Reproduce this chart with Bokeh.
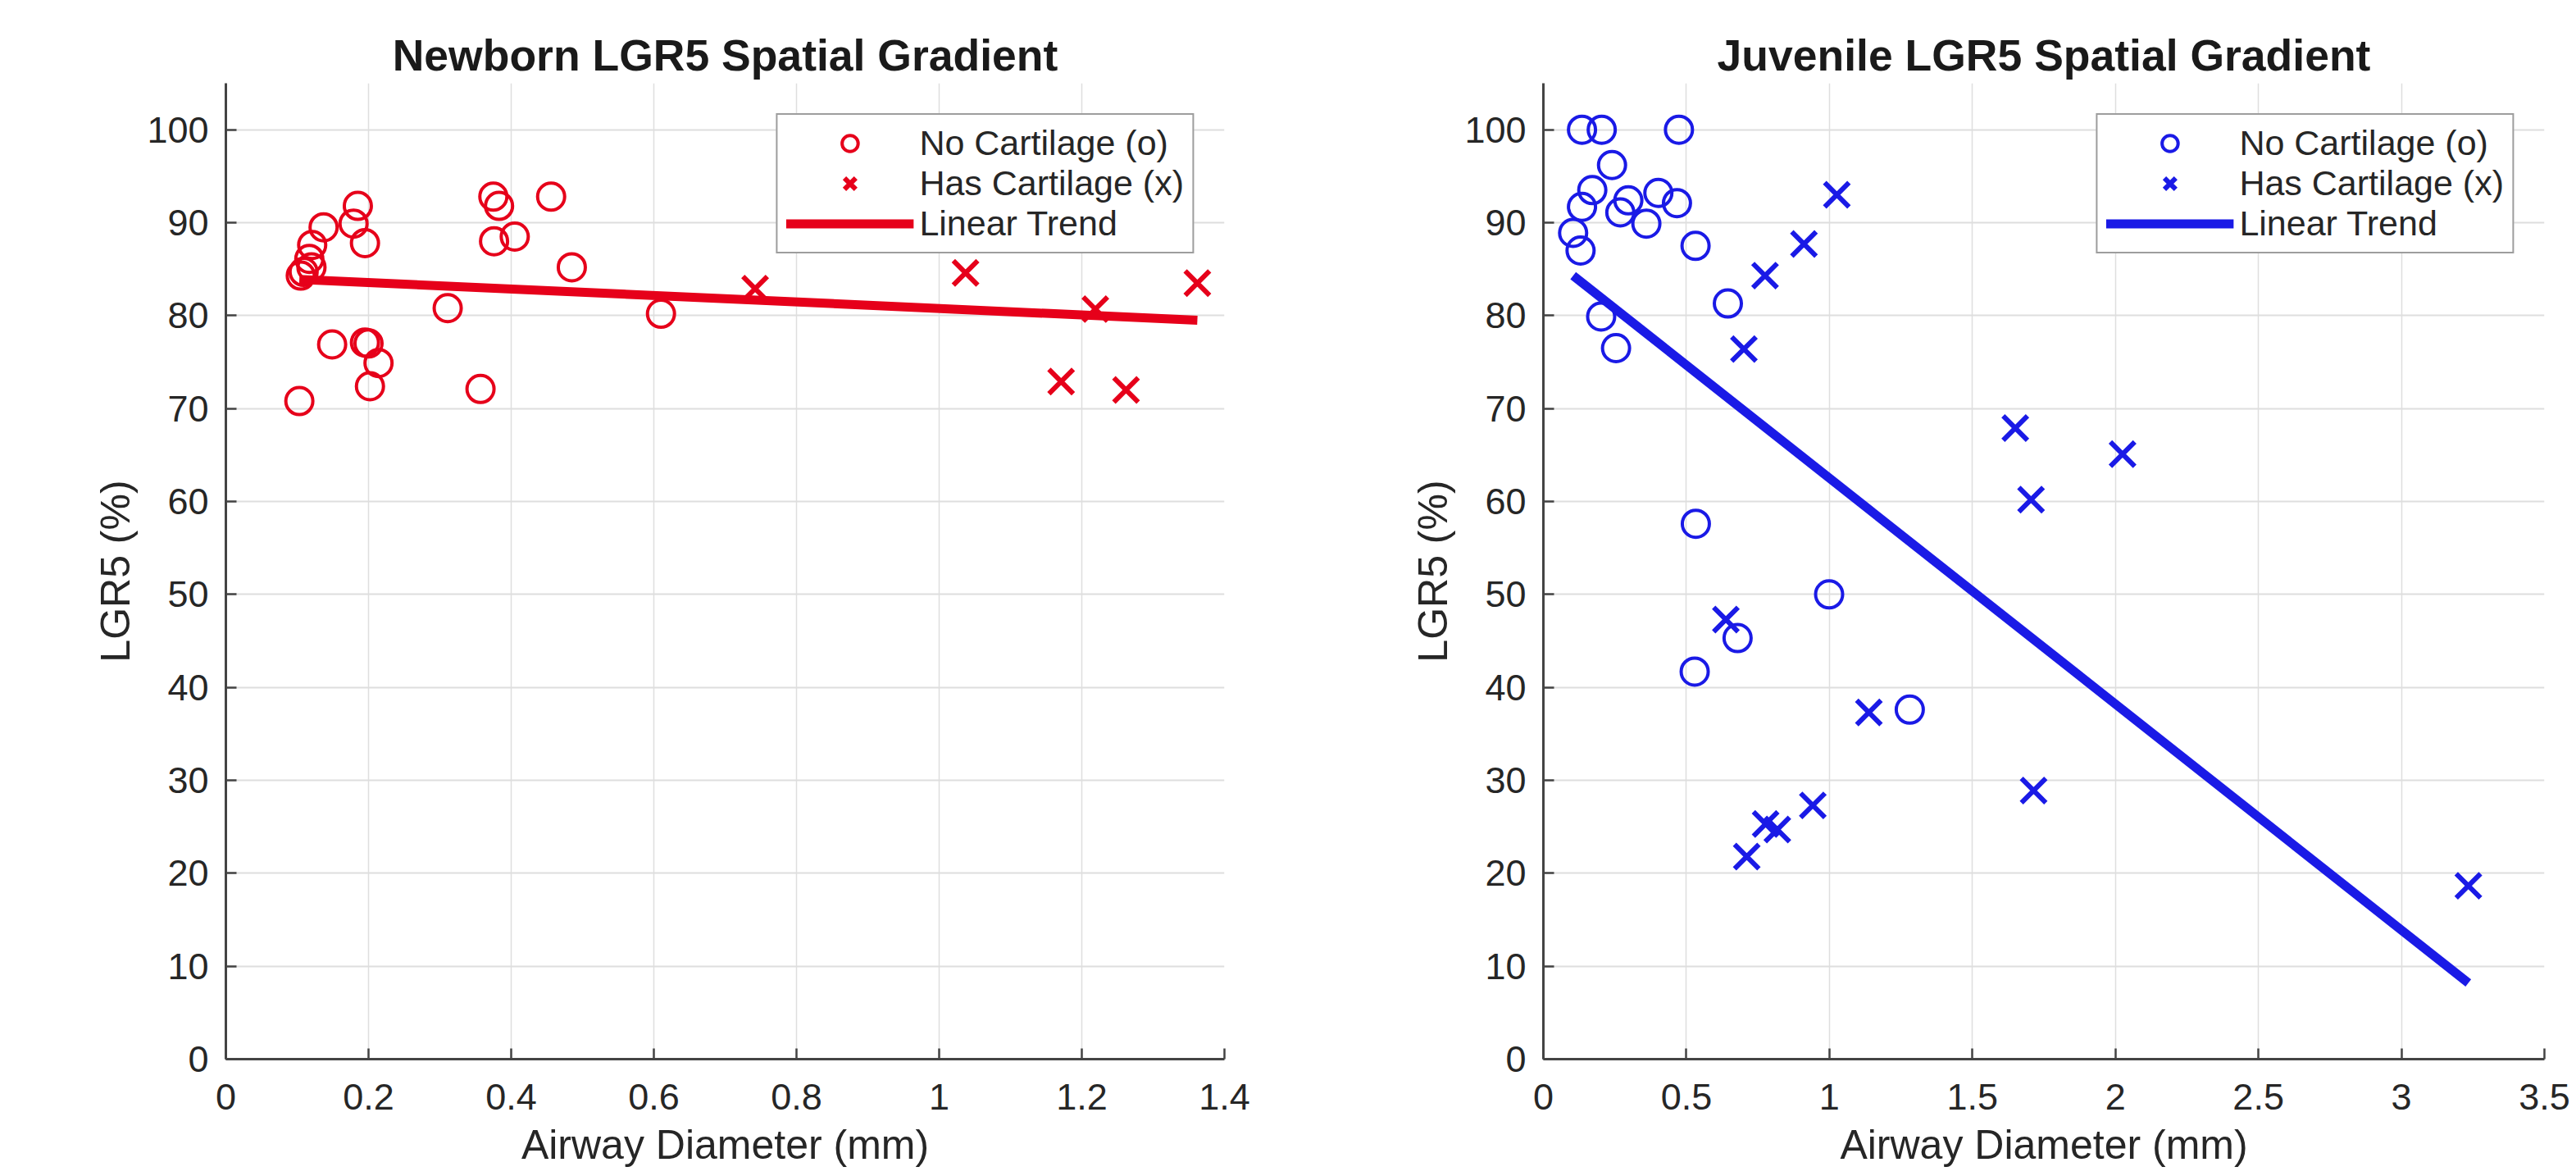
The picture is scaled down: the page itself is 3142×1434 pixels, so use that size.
from bokeh.plotting import figure
from bokeh.models import Range1d, Legend, LegendItem, FixedTicker
from bokeh.layouts import row
from bokeh.embed import file_html
from bokeh.resources import INLINE

FONT = "Liberation Sans"
RED = "#e6001a"
BLUE = "#1a1ae6"
TXT = "#262626"

# ---------------- Newborn data ----------------
nb_nocart_x = [0.103, 0.105, 0.109, 0.117, 0.120, 0.121, 0.137, 0.149, 0.179, 0.185,
               0.195, 0.195, 0.200, 0.202, 0.214, 0.311, 0.357, 0.375, 0.383, 0.376,
               0.405, 0.456, 0.485, 0.610]
nb_nocart_y = [70.8, 84.3, 84.7, 86.1, 85.2, 87.6, 89.5, 76.9, 89.9, 91.8,
               87.8, 77.1, 77.0, 72.4, 74.9, 80.8, 72.1, 92.8, 91.8, 88.0,
               88.5, 92.8, 85.2, 80.2]
nb_cart_x = [0.742, 1.037, 1.171, 1.219, 1.262, 1.362]
nb_cart_y = [82.9, 84.6, 72.9, 80.7, 72.0, 83.5]
nb_trend_x = [0.103, 1.362]
nb_trend_y = [83.9, 79.5]

# ---------------- Juvenile data ----------------
jv_nocart_x = [0.104, 0.130, 0.135, 0.135, 0.171, 0.202, 0.204, 0.240, 0.254, 0.269,
               0.297, 0.360, 0.402, 0.467, 0.474, 0.529, 0.532, 0.533, 0.645, 0.679,
               0.999, 1.281]
jv_nocart_y = [88.9, 87.0, 100.0, 91.7, 93.5, 79.9, 100.0, 96.2, 76.5, 91.1,
               92.4, 89.9, 93.2, 92.1, 100.0, 41.7, 87.5, 57.6, 81.3, 45.3,
               50.0, 37.6]
jv_cart_x = [0.638, 0.701, 0.711, 0.775, 0.777, 0.818, 0.911, 0.942, 1.026, 1.138,
             1.650, 1.705, 1.714, 2.025, 3.234]
jv_cart_y = [47.3, 76.4, 21.8, 84.3, 25.3, 24.7, 87.7, 27.3, 93.0, 37.3,
             67.9, 60.2, 28.9, 65.1, 18.65]
jv_trend_x = [0.104, 3.234]
jv_trend_y = [84.3, 8.2]

# ---------------- Axes / labels ----------------
nb_xticks = [0, 0.2, 0.4, 0.6, 0.8, 1, 1.2, 1.4]
nb_xlabels = ["0", "0.2", "0.4", "0.6", "0.8", "1", "1.2", "1.4"]
jv_xticks = [0, 0.5, 1, 1.5, 2, 2.5, 3, 3.5]
jv_xlabels = ["0", "0.5", "1", "1.5", "2", "2.5", "3", "3.5"]
yticks = [0, 10, 20, 30, 40, 50, 60, 70, 80, 90, 100]
ylabels = ["0", "10", "20", "30", "40", "50", "60", "70", "80", "90", "100"]

legend_labels = ["No Cartilage (o)", "Has Cartilage (x)", "Linear Trend"]
titles = ["Newborn LGR5 Spatial Gradient", "Juvenile LGR5 Spatial Gradient"]
xlabel = "Airway Diameter (mm)"
ylabel = "LGR5 (%)"

H = 1434


def panel(title, width, ml, mr, xmax, xticks, xlabels, color,
          ox, oy, cx, cy, tx, ty):
    p = figure(width=width, height=H, output_backend="svg", toolbar_location=None,
               x_range=Range1d(0, xmax), y_range=Range1d(0, 105),
               min_border_left=ml, min_border_right=mr,
               min_border_top=101, min_border_bottom=143)
    p.outline_line_color = None
    p.background_fill_color = "white"
    p.border_fill_color = "white"

    p.title.text = title
    p.title.align = "center"
    p.title.text_font = FONT
    p.title.text_font_size = "53.5px"
    p.title.text_font_style = "bold"
    p.title.text_color = "#1a1a1a"
    p.title.standoff = 10

    p.xaxis.ticker = FixedTicker(ticks=xticks)
    p.xaxis.major_label_overrides = dict(zip(xticks, xlabels))
    p.yaxis.ticker = FixedTicker(ticks=yticks)
    p.yaxis.major_label_overrides = dict(zip(yticks, ylabels))
    p.xaxis.axis_label = xlabel
    p.yaxis.axis_label = ylabel

    for ax in (p.xaxis[0], p.yaxis[0]):
        ax.axis_line_color = "#444444"
        ax.axis_line_width = 3
        ax.major_tick_line_color = "#444444"
        ax.major_tick_line_width = 2.5
        ax.major_tick_in = 13
        ax.major_tick_out = 0
        ax.minor_tick_line_color = None
        ax.major_label_text_font = FONT
        ax.major_label_text_font_size = "45px"
        ax.major_label_text_color = TXT
        ax.axis_label_text_font = FONT
        ax.axis_label_text_font_size = "50px"
        ax.axis_label_text_font_style = "normal"
        ax.axis_label_text_color = TXT
    p.xaxis.major_label_standoff = 30
    p.xaxis.axis_label_standoff = 12
    p.yaxis.major_label_standoff = 21
    p.yaxis.axis_label_standoff = 7

    p.xgrid.grid_line_color = "#dedede"
    p.xgrid.grid_line_width = 1.5
    p.ygrid.grid_line_color = "#dedede"
    p.ygrid.grid_line_width = 2

    r1 = p.scatter(ox, oy, marker="circle", size=33, fill_color=None,
                   line_color=color, line_width=4)
    r2 = p.scatter(cx, cy, marker="x", size=42, line_color=color, line_width=6)
    r3 = p.line(tx, ty, line_width=11, line_color=color, line_cap="butt")

    legend = Legend(items=[LegendItem(label=legend_labels[0], renderers=[r1]),
                           LegendItem(label=legend_labels[1], renderers=[r2]),
                           LegendItem(label=legend_labels[2], renderers=[r3])],
                    location="top_right", margin=37, padding=10, spacing=0,
                    glyph_width=156, glyph_height=49, label_height=49,
                    label_standoff=7,
                    label_text_font=FONT, label_text_font_size="43px",
                    label_text_color=TXT,
                    border_line_color="#3c3c3c", border_line_width=2,
                    background_fill_color="white", background_fill_alpha=1)
    p.add_layout(legend)
    return p


p1 = panel(titles[0], 1571, 275, 78, 1.4, nb_xticks, nb_xlabels, RED,
           nb_nocart_x, nb_nocart_y, nb_cart_x, nb_cart_y, nb_trend_x, nb_trend_y)
p2 = panel(titles[1], 1571, 311, 39, 3.5, jv_xticks, jv_xlabels, BLUE,
           jv_nocart_x, jv_nocart_y, jv_cart_x, jv_cart_y, jv_trend_x, jv_trend_y)

layout = row(p1, p2)
open("out.html", "w").write(file_html(layout, INLINE))
